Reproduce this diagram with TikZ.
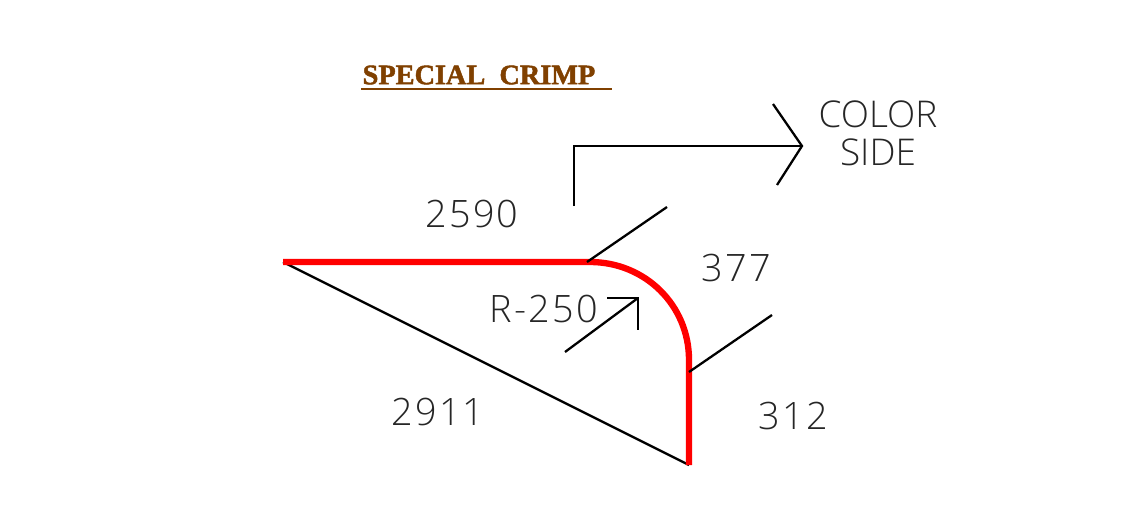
\documentclass[tikz,border=0pt]{standalone}
\usepackage{fontspec}
\setmainfont{Open Sans Light}
\newfontfamily\titlefont[FakeBold=1.6]{Liberation Serif}
\newfontfamily\numfont[LetterSpace=6]{Open Sans Light}
\usetikzlibrary{positioning}
\definecolor{crimpred}{RGB}{255,0,0}
\definecolor{titlebrown}{RGB}{128,64,0}
\begin{document}
\begin{tikzpicture}[
    x=0.02cm,
    y=-0.02cm,
    edge/.style={
		draw=black,
		line width=1.3pt
	},
	crimp/.style={
		draw=crimpred,
		line width=3.6pt,
		line join=round
	},
	dim/.style={
		font=\numfont\fontsize{21.5}{26}\selectfont,
		text=black!85,
		inner sep=0pt
	},
	word/.style={
		font=\fontsize{21}{26}\selectfont,
		text=black!85,
		inner sep=0pt
	},
	title/.style={
		font=\titlefont\bfseries\fontsize{16.1}{18}\selectfont,
		text=titlebrown,
		inner sep=0pt
	}
  ]
  \useasboundingbox (0,0) rectangle (1137,514);

  % corner points of the crimp
  \coordinate (start) at (283,262);
  \coordinate (bendA) at (590,262);
  \coordinate (bendB) at (689,360);
  \coordinate (tip) at (689,465);

  \draw [edge] (start) -- (tip);
  \draw [crimp] (start) -- (bendA) .. controls (645,262) and (689,305) .. (bendB) -- (tip);

  % leaders of the radius length
  \coordinate (leadA) at (587,262);
  \coordinate (leadAend) at (667,207);
  \coordinate (leadB) at (689,372);
  \coordinate (leadBend) at (772,315);
  \draw [edge] (leadA) -- (leadAend);
  \draw [edge] (leadB) -- (leadBend);

  % radius arrow
  \coordinate (radA) at (565,352);
  \coordinate (radB) at (638,298);
  \coordinate (radC) at (607,298);
  \coordinate (radD) at (638,330);
  \draw [edge] (radA) -- (radB);
  \draw [edge] (radC) -- (radB) -- (radD);

  % color side arrow
  \coordinate (sideA) at (574,206);
  \coordinate (sideB) at (802,146);
  \coordinate (sideC) at (773,104);
  \coordinate (sideD) at (777,185);
  \draw [edge] (sideA) |- (sideB);
  \draw [edge] (sideC) -- (sideB) -- (sideD);

  \node [title] (head) at (479,75) {SPECIAL\ \ CRIMP};
  \coordinate (ruleA) at (361,89);
  \coordinate (ruleB) at (612,89);
  \draw [draw=titlebrown, line width=1.3pt] (ruleA) -- (ruleB);

  \node [word] (color) at (878,114) {COLOR};
  \node [word] (side) at (878,152) {SIDE};
  \node [dim] (top) at (472,214) {2590};
  \node [dim] (arc) at (736,268) {377};
  \node [dim] (radius) at (544,309) {R-250};
  \node [dim] (diag) at (438,412) {2911};
  \node [dim] (right) at (793,416) {312};

\end{tikzpicture}
\end{document}
